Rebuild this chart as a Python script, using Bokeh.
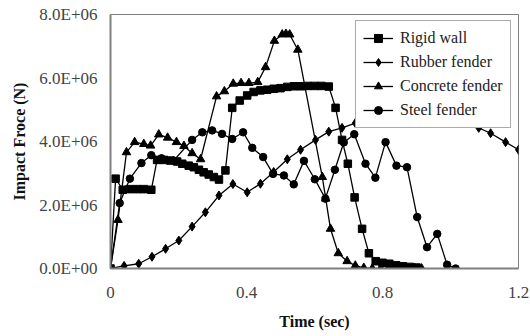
from bokeh.plotting import figure
from bokeh.models import Range1d, FixedTicker
from bokeh.embed import file_html
from bokeh.resources import INLINE

# ---- data (time in s, force in N) ----
rigid_t = [0, 0.015, 0.036, 0.056, 0.078, 0.098, 0.12, 0.137, 0.157, 0.176, 0.196, 0.211, 0.23,
           0.245, 0.26, 0.274, 0.289, 0.304, 0.319, 0.338, 0.358, 0.38, 0.402, 0.421, 0.441,
           0.461, 0.48, 0.5, 0.52, 0.54, 0.56, 0.58, 0.60, 0.62, 0.642, 0.662, 0.681, 0.698,
           0.718, 0.74, 0.76, 0.78, 0.80, 0.82, 0.84, 0.86, 0.88, 0.90]
rigid_f = [0, 2.83e6, 2.48e6, 2.50e6, 2.50e6, 2.50e6, 2.48e6, 3.42e6, 3.42e6, 3.40e6, 3.37e6,
           3.30e6, 3.24e6, 3.19e6, 3.11e6, 3.03e6, 2.96e6, 2.88e6, 2.80e6, 3.09e6, 5.06e6,
           5.29e6, 5.45e6, 5.56e6, 5.61e6, 5.63e6, 5.66e6, 5.68e6, 5.72e6, 5.74e6, 5.74e6,
           5.75e6, 5.75e6, 5.75e6, 5.73e6, 5.06e6, 4.05e6, 3.30e6, 2.24e6, 1.25e6, 0.48e6,
           0.23e6, 0.18e6, 0.15e6, 0.10e6, 0.07e6, 0.05e6, 0.03e6]

rubber_t = [0, 0.040, 0.083, 0.122, 0.162, 0.201, 0.240, 0.279, 0.319, 0.360, 0.402, 0.441,
            0.480, 0.520, 0.559, 0.603, 0.642, 0.681, 0.720, 0.76, 0.80, 0.84, 0.88, 0.92,
            0.96, 1.00, 1.04, 1.083, 1.118, 1.162, 1.2]
rubber_f = [0, 0.08e6, 0.15e6, 0.37e6, 0.62e6, 0.88e6, 1.32e6, 1.77e6, 2.30e6, 2.66e6, 2.40e6,
            2.67e6, 3.04e6, 3.44e6, 3.74e6, 4.05e6, 4.31e6, 4.43e6, 4.58e6, 4.70e6, 4.80e6,
            4.88e6, 4.92e6, 4.90e6, 4.82e6, 4.72e6, 4.58e6, 4.43e6, 4.26e6, 3.98e6, 3.74e6]

concrete_t = [0, 0.022, 0.047, 0.071, 0.098, 0.118, 0.142, 0.168, 0.194, 0.216, 0.240, 0.265,
              0.312, 0.335, 0.361, 0.384, 0.407, 0.433, 0.456, 0.482, 0.505, 0.516, 0.527,
              0.551, 0.623, 0.633, 0.647, 0.670, 0.696, 0.720, 0.745, 0.77, 0.795, 0.82,
              0.845, 0.87, 0.895, 0.915]
concrete_f = [0, 1.53e6, 3.66e6, 3.98e6, 3.92e6, 3.87e6, 4.22e6, 4.12e6, 3.98e6, 3.86e6,
              3.63e6, 3.44e6, 5.42e6, 5.58e6, 5.82e6, 5.84e6, 5.84e6, 5.87e6, 6.34e6, 7.17e6,
              7.37e6, 7.39e6, 7.37e6, 6.89e6, 2.88e6, 2.20e6, 1.25e6, 0.48e6, 0.23e6, 0.09e6,
              0.02e6, 0, 0, 0, 0, 0, 0, 0]

steel_t = [0, 0.027, 0.057, 0.091, 0.120, 0.15, 0.186, 0.240, 0.270, 0.299, 0.328, 0.358,
           0.390, 0.417, 0.449, 0.478, 0.510, 0.539, 0.569, 0.601, 0.632, 0.660, 0.686, 0.717,
           0.750, 0.779, 0.809, 0.841, 0.872, 0.902, 0.931, 0.961, 0.990, 1.015]
steel_f = [0, 2.06e6, 2.83e6, 3.32e6, 3.57e6, 3.47e6, 3.40e6, 4.05e6, 4.29e6, 4.35e6, 4.24e6,
           4.08e6, 4.29e6, 3.80e6, 3.51e6, 2.98e6, 2.93e6, 2.65e6, 3.39e6, 2.81e6, 2.20e6,
           3.11e6, 3.97e6, 4.23e6, 3.30e6, 2.86e6, 3.98e6, 3.24e6, 3.19e6, 1.62e6, 0.67e6,
           1.09e6, 0.12e6, 0.0]

x_ticks = [0, 0.4, 0.8, 1.2]
x_tick_labels = ["0", "0.4", "0.8", "1.2"]
y_ticks = [0, 2e6, 4e6, 6e6, 8e6]
y_tick_labels = ["0.0E+00", "2.0E+06", "4.0E+06", "6.0E+06", "8.0E+06"]

series = [
    ("Rigid wall", rigid_t, rigid_f, "square", 7.5),
    ("Rubber fender", rubber_t, rubber_f, "diamond", 9),
    ("Concrete fender", concrete_t, concrete_f, "triangle", 8.5),
    ("Steel fender", steel_t, steel_f, "circle", 7.5),
]

SERIF = "Liberation Serif"

p = figure(width=530, height=336, output_backend="svg", toolbar_location=None, title=None,
           x_range=Range1d(0, 1.2), y_range=Range1d(0, 8e6),
           min_border_left=110, min_border_right=12, min_border_top=14, min_border_bottom=68)

p.background_fill_color = "white"
p.border_fill_color = "white"
p.outline_line_color = "#808080"
p.outline_line_width = 1
p.xgrid.visible = False
p.ygrid.visible = False

for name, t, f, marker, sz in series:
    p.line(t, f, line_color="black", line_width=1.3, legend_label=name)
    p.scatter(t, f, marker=marker, size=sz, fill_color="black", line_color="black",
              legend_label=name)

p.xaxis.ticker = FixedTicker(ticks=x_ticks)
p.xaxis.major_label_overrides = {k: v for k, v in zip(x_ticks, x_tick_labels)}
p.yaxis.ticker = FixedTicker(ticks=y_ticks)
p.yaxis.major_label_overrides = {k: v for k, v in zip(y_ticks, y_tick_labels)}

for ax in (p.xaxis[0], p.yaxis[0]):
    ax.axis_line_color = "#808080"
    ax.axis_line_width = 2
    ax.major_tick_out = 0
    ax.major_tick_in = 0
    ax.minor_tick_out = 0
    ax.minor_tick_in = 0
    ax.major_label_text_font = SERIF
    ax.major_label_text_font_size = "17px"
    ax.major_label_text_color = "#444444"
    ax.axis_label_text_font = SERIF
    ax.axis_label_text_font_size = "16px"
    ax.axis_label_text_font_style = "bold"
    ax.axis_label_text_color = "#111111"

p.xaxis.axis_label = "Time (sec)"
p.yaxis.axis_label = "Impact Froce (N)"
p.xaxis.major_label_standoff = 18
p.xaxis.axis_label_standoff = 12
p.yaxis.major_label_standoff = 13
p.yaxis.axis_label_standoff = 8

lg = p.legend[0]
lg.location = (245, 140)
lg.label_text_font = SERIF
lg.label_text_font_size = "16px"
lg.label_text_color = "#222222"
lg.glyph_width = 30
lg.glyph_height = 20
lg.label_height = 20
lg.spacing = 4
lg.padding = 7
lg.label_standoff = 7
lg.border_line_color = "#555555"
lg.border_line_width = 1
lg.background_fill_color = "white"
lg.background_fill_alpha = 1.0
lg.margin = 0

open("out.html", "w").write(file_html(p, INLINE))
